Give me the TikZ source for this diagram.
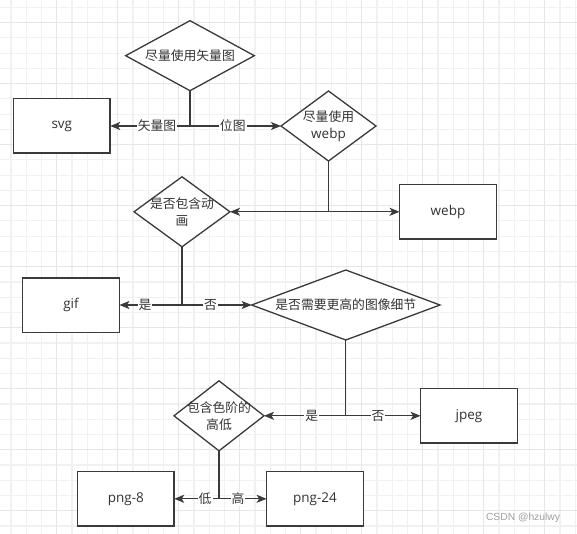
\documentclass[tikz,border=0pt]{standalone}
\usepackage{fontspec}
\setmainfont{Open Sans}
\newfontfamily\cjk{Noto Sans CJK SC}
\usetikzlibrary{shapes.geometric,arrows.meta}
\definecolor{ink}{HTML}{333333}
\definecolor{edge}{HTML}{3A3A3A}
\definecolor{gridminor}{HTML}{F1F1F1}
\definecolor{gridmajor}{HTML}{E6E6E6}
\definecolor{mark}{HTML}{A0A0A0}
\begin{document}
\begin{tikzpicture}[x=1pt,y=-1pt,
  dia/.style={diamond, draw=edge, line width=1.3pt, fill=white, inner sep=0pt, outer sep=0pt},
  box/.style={rectangle, draw=edge, line width=1.5pt, fill=white, minimum width=96.8pt, minimum height=54.5pt, inner sep=0pt, outer sep=0pt, font=\fontsize{13.5}{16}\selectfont, text=ink},
  txt/.style={font=\cjk\fontsize{12.8}{16.7}\selectfont, text=ink, align=center, inner sep=0pt},
  conn/.style={draw=edge, line width=1.3pt},
  arr/.style={conn, -{Stealth[length=10pt,width=8pt,inset=2.5pt]}},
  lab/.style={fill=white, inner sep=1pt, font=\cjk\fontsize{12.8}{15}\selectfont, text=ink},
]
\useasboundingbox (0,0) rectangle (577,534);
\fill[white] (0,0) rectangle (577,534);
% grid
\begin{scope}
\clip (0,0) rectangle (577,534);
\foreach \i in {0,...,37} {\draw[gridminor, line width=1.1pt] ({10.95+15.25*\i},0) -- ({10.95+15.25*\i},534);}
\foreach \i in {0,...,34} {\draw[gridminor, line width=1.1pt] (0,{7.45+15.25*\i}) -- (577,{7.45+15.25*\i});}
\foreach \i in {-1,...,8} {\draw[gridmajor, line width=1.3pt] ({56.7+61*\i},0) -- ({56.7+61*\i},534);}
\foreach \i in {0,...,8} {\draw[gridmajor, line width=1.3pt] (0,{22.7+61*\i}) -- (577,{22.7+61*\i});}
\end{scope}

% nodes
\node[dia, minimum width=128.7pt, minimum height=70pt] (d1) at (190,55.7) {};
\node[txt] (d1t) at (d1.center) {尽量使用矢量图};
\node[box] (svg) at (61.8,126) {svg};
\node[dia, minimum width=95pt, minimum height=70pt] (d2) at (328.5,126) {};
\node[txt] (d2t) at (d2.center) {尽量使用\\{\fontspec{Open Sans}\fontsize{13.5}{16.7}\selectfont webp}};
\node[dia, minimum width=96pt, minimum height=70pt] (d3) at (182,211.8) {};
\node[txt] (d3t) at (d3.center) {是否包含动\\画};
\node[box] (webp) at (448,211.8) {webp};
\node[box] (gif) at (71,305) {gif};
\node[dia, minimum width=188.3pt, minimum height=70pt] (d4) at (345.8,305) {};
\node[txt] (d4t) at (d4.center) {是否需要更高的图像细节};
\node[box] (jpeg) at (469,415.8) {jpeg};
\node[dia, minimum width=90pt, minimum height=70pt] (d5) at (219,415.8) {};
\node[txt] (d5t) at (d5.center) {包含色阶的\\高低};
\node[box] (png8) at (125.8,498.8) {png-8};
\node[box] (png24) at (315,498.8) {png-24};

% connectors
\coordinate (j1) at (d1.south |- svg.east);
\draw[conn] (d1.south) -- (j1);
\draw[arr] (j1) -- (svg.east) node[lab,pos=0.414] (l1) {矢量图};
\draw[arr] (j1) -- (d2.west) node[lab,pos=0.47] (l2) {位图};

\coordinate (j2) at (d2.south |- webp.west);
\draw[conn] (d2.south) -- (j2);
\draw[arr] (j2) -- (d3.east);
\draw[arr] (j2) -- (webp.west);

\coordinate (j3) at (d3.south |- gif.east);
\draw[conn] (d3.south) -- (j3);
\draw[arr] (j3) -- (gif.east) node[lab,pos=0.59] (l3) {是};
\draw[arr] (j3) -- (d4.west) node[lab,pos=0.41] (l4) {否};

\coordinate (j4) at (d4.south |- jpeg.west);
\draw[conn] (d4.south) -- (j4);
\draw[arr] (j4) -- (d5.east) node[lab,pos=0.415] (l5) {是};
\draw[arr] (j4) -- (jpeg.west) node[lab,pos=0.43] (l6) {否};

\coordinate (j5) at (d5.south |- png8.east);
\draw[conn] (d5.south) -- (j5);
\draw[arr] (j5) -- (png8.east) node[lab,pos=0.31] (l7) {低};
\draw[arr] (j5) -- (png24.west) node[lab,pos=0.40] (l8) {高};

% watermark
\node[text=mark, font=\fontspec{Liberation Sans}\fontsize{10.3}{12}\selectfont, inner sep=0pt] (wm) at (523,518) {CSDN @hzulwy};
\end{tikzpicture}
\end{document}
